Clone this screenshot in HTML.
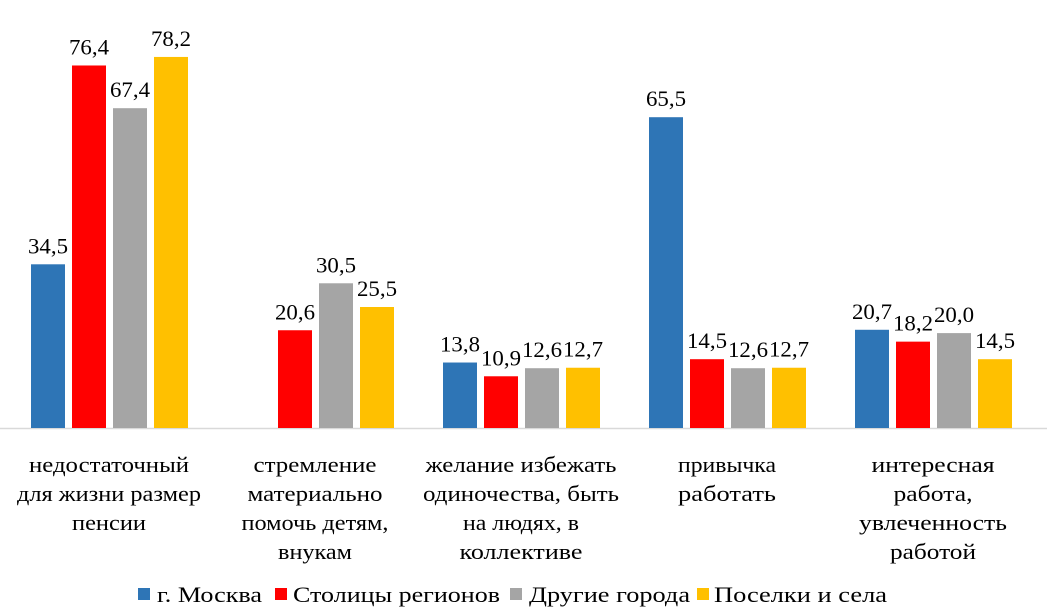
<!DOCTYPE html>
<html><head><meta charset="utf-8"><style>html,body{margin:0;padding:0;background:#fff}svg{display:block}svg text{font-family:"Liberation Serif","DejaVu Serif","Noto Serif CJK SC",serif}</style></head>
<body>
<svg width="1047" height="616" viewBox="0 0 1047 616" xmlns="http://www.w3.org/2000/svg" font-size="22" fill="#000">
<line x1="0" y1="428.5" x2="1047" y2="428.5" stroke="#d9d9d9" stroke-width="1.5"/>
<g id="bars"></g>
<g text-anchor="middle" id="cats">
<text x="109" y="472">недостаточный</text><text x="109" y="501">для жизни размер</text><text x="109" y="530">пенсии</text>
<text x="315" y="472">стремление</text><text x="315" y="501">материально</text><text x="315" y="530">помочь детям,</text><text x="315" y="559">внукам</text>
<text x="521" y="472">желание избежать</text><text x="521" y="501">одиночества, быть</text><text x="521" y="530">на людях, в</text><text x="521" y="559">коллективе</text>
<text x="727" y="472">привычка</text><text x="727" y="501">работать</text>
<text x="933" y="472">интересная</text><text x="933" y="501">работа,</text><text x="933" y="530">увлеченность</text><text x="933" y="559">работой</text>
</g>
<rect x="138" y="588" width="12" height="12" fill="#2E75B6"/><text x="157" y="602" textLength="105" lengthAdjust="spacingAndGlyphs">г. Москва</text>
<rect x="275" y="588" width="12" height="12" fill="#FF0000"/><text x="293" y="602" textLength="207" lengthAdjust="spacingAndGlyphs">Столицы регионов</text>
<rect x="510" y="588" width="12" height="12" fill="#A5A5A5"/><text x="529" y="602" textLength="161" lengthAdjust="spacingAndGlyphs">Другие города</text>
<rect x="697" y="588" width="12" height="12" fill="#FFC000"/><text x="714" y="602" textLength="173" lengthAdjust="spacingAndGlyphs">Поселки и села</text>
</svg>
<script>
const d=[[34.5,76.4,67.4,78.2],[null,20.6,30.5,25.5],[13.8,10.9,12.6,12.7],[65.5,14.5,12.6,12.7],[20.7,18.2,20.0,14.5]];
const c=["#2E75B6","#FF0000","#A5A5A5","#FFC000"];
let s="";
d.forEach((g,i)=>g.forEach((v,j)=>{if(v==null)return;const x=31+206*i+41*j,h=v*4.745,y=428-h;
s+=`<rect x="${x}" y="${y}" width="34" height="${h}" fill="${c[j]}"/><text x="${x+17}" y="${y-11}" text-anchor="middle" textLength="40" lengthAdjust="spacingAndGlyphs">${v.toFixed(1).replace('.',',')}</text>`;}));
document.getElementById("bars").innerHTML=s;
document.querySelectorAll("#cats text").forEach(t=>{const str=t.textContent;let w=0;for(const ch of str){w+=ch==' '?6:(ch==','?5.5:12.3);}t.setAttribute("textLength",w.toFixed(0));t.setAttribute("lengthAdjust","spacingAndGlyphs");});
</script>
</body></html>
